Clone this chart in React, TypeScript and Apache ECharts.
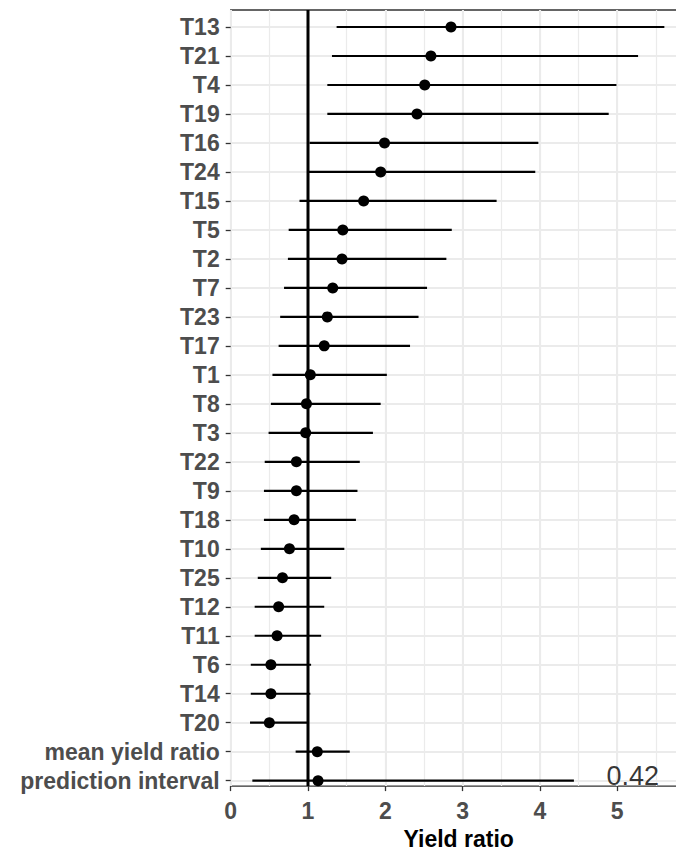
import React, { useEffect, useRef } from "react";
import * as echarts from "echarts";

const labels = [
  "T13", "T21", "T4", "T19", "T16", "T24", "T15", "T5", "T2", "T7", "T23", "T17", "T1",
  "T8", "T3", "T22", "T9", "T18", "T10", "T25", "T12", "T11", "T6", "T14", "T20",
  "mean yield ratio", "prediction interval",
];
const estimate = [
  2.85, 2.59, 2.51, 2.41, 1.99, 1.94, 1.72, 1.45, 1.44, 1.32, 1.25, 1.21, 1.03,
  0.98, 0.97, 0.85, 0.85, 0.82, 0.76, 0.67, 0.62, 0.6, 0.52, 0.52, 0.5,
  1.12, 1.13,
];
const lower = [
  1.37, 1.31, 1.25, 1.25, 1.02, 1.01, 0.89, 0.75, 0.74, 0.69, 0.64, 0.62, 0.54,
  0.52, 0.49, 0.44, 0.43, 0.43, 0.39, 0.35, 0.31, 0.31, 0.26, 0.26, 0.25,
  0.84, 0.28,
];
const upper = [
  5.61, 5.27, 4.99, 4.89, 3.98, 3.94, 3.44, 2.86, 2.79, 2.54, 2.43, 2.32, 2.02,
  1.94, 1.84, 1.67, 1.64, 1.62, 1.47, 1.3, 1.21, 1.17, 1.04, 1.03, 1.0,
  1.54, 4.44,
];
const xTicks = [0, 1, 2, 3, 4, 5];
const refLine = 1;
const annotationText = "0.42";
const annotationX = 5.2;
const xMax = 5.9;

const FONT = "'Liberation Sans', Arial, Helvetica, sans-serif";

export default function App() {
  const ref = useRef<HTMLDivElement>(null);
  useEffect(() => {
    if (!ref.current) return;
    const chart = echarts.init(ref.current, undefined, { renderer: "svg" });
    const n = labels.length;
    const barData = labels.map((_, i) => [lower[i], upper[i], i]);
    const pointData = labels.map((_, i) => [estimate[i], i]);
    chart.setOption({
      animation: false,
      backgroundColor: "#ffffff",
      textStyle: { fontFamily: FONT },
      grid: [
        {
          left: 230.7, top: 10, width: 77.3 * xMax, height: 786.7,
          show: true, borderColor: "#333333", borderWidth: 1.3, backgroundColor: "#ffffff",
          containLabel: false,
        },
        { left: 230.7, top: 27, width: 77.3 * xMax, height: 753.7, containLabel: false },
      ],
      xAxis: [
        {
          gridIndex: 0, type: "value", min: 0, max: xMax, interval: 1,
          axisLine: { show: false },
          axisTick: { show: true, length: 5, lineStyle: { color: "#333333", width: 1.3 } },
          axisLabel: {
            show: true, fontSize: 23, fontWeight: "bold", color: "#4D4D4D", margin: 13,
            fontFamily: FONT, showMaxLabel: false,
            formatter: (v: number) => (xTicks.indexOf(v) >= 0 ? String(v) : ""),
          },
          splitLine: { show: true, lineStyle: { color: "#EBEBEB", width: 2 } },
          name: "Yield ratio", nameLocation: "middle", nameGap: 40,
          nameTextStyle: { fontSize: 23, fontWeight: "bold", color: "#000000", fontFamily: FONT },
        },
        {
          gridIndex: 0, type: "value", min: 0, max: xMax, interval: 0.5, position: "bottom",
          axisLine: { show: false }, axisTick: { show: false }, axisLabel: { show: false },
          splitLine: { show: true, lineStyle: { color: "#EBEBEB", width: 1.2 } },
        },
        { gridIndex: 1, type: "value", min: 0, max: xMax, show: false },
      ],
      yAxis: [
        { gridIndex: 0, type: "value", min: 0, max: 1, show: false },
        {
          gridIndex: 1, type: "value", min: 0, max: n - 1, interval: 1, inverse: true,
          axisLine: { show: false },
          axisTick: { show: true, length: 5, lineStyle: { color: "#333333", width: 1.3 } },
          axisLabel: {
            fontSize: 23, fontWeight: "bold", color: "#4D4D4D", margin: 11, fontFamily: FONT,
            formatter: (v: number) => labels[Math.round(v)] ?? "",
          },
          splitLine: { show: true, lineStyle: { color: "#EBEBEB", width: 2 } },
        },
      ],
      series: [
        {
          type: "line", xAxisIndex: 0, yAxisIndex: 0, z: 2,
          data: [[refLine, 0], [refLine, 1]],
          symbol: "none", lineStyle: { color: "#000000", width: 3 },
        },
        {
          type: "custom", xAxisIndex: 2, yAxisIndex: 1, z: 3,
          data: barData,
          encode: { x: [0, 1], y: 2 },
          renderItem: (params: any, api: any) => {
            const a = api.coord([api.value(0), api.value(2)]);
            const b = api.coord([api.value(1), api.value(2)]);
            return {
              type: "line",
              shape: { x1: a[0], y1: a[1], x2: b[0], y2: b[1] },
              style: { stroke: "#000000", lineWidth: 2.2 },
            };
          },
        },
        {
          type: "scatter", xAxisIndex: 2, yAxisIndex: 1, z: 4,
          data: pointData, symbol: "circle", symbolSize: 11,
          itemStyle: { color: "#000000", opacity: 1 },
        },
        {
          type: "scatter", xAxisIndex: 2, yAxisIndex: 1, z: 5,
          data: [[annotationX, n - 1]], symbolSize: 0,
          label: {
            show: true, position: "inside", offset: [0, -5],
            formatter: annotationText, fontSize: 27, color: "#000000", fontFamily: FONT,
          },
        },
      ],
    });
    return () => chart.dispose();
  }, []);
  return (
    <div
      style={{
        position: "absolute", left: 0, top: 0, width: 676, height: 855,
        overflow: "hidden", background: "#fff",
      }}
    >
      <div ref={ref} style={{ width: 720, height: 855 }} />
    </div>
  );
}
